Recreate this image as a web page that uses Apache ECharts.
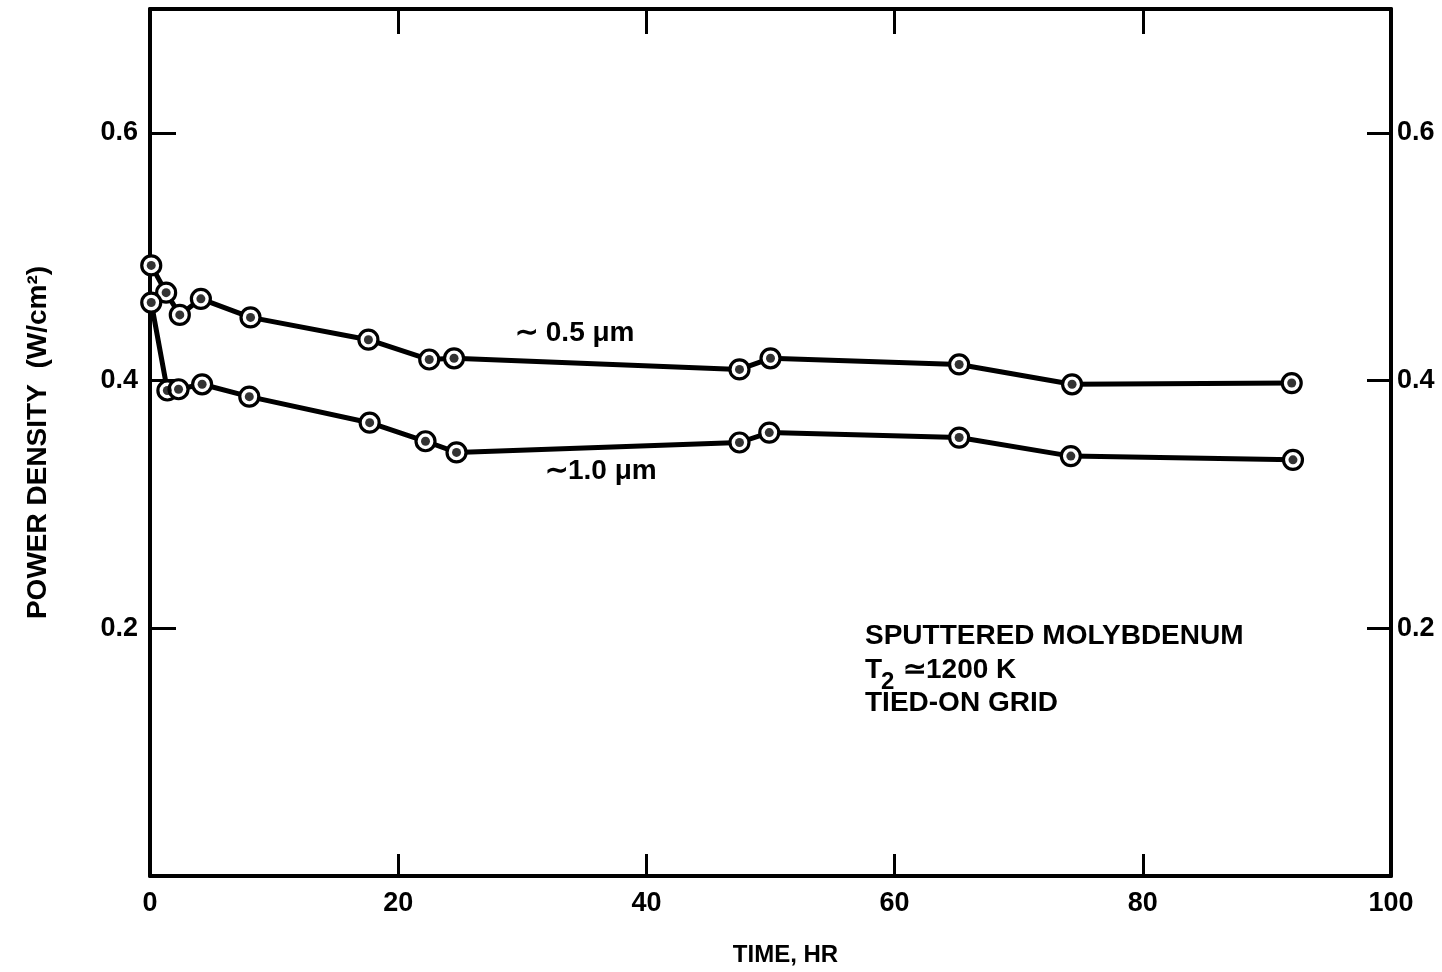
<!DOCTYPE html>
<html>
<head>
<meta charset="utf-8">
<script src="https://cdn.jsdelivr.net/npm/echarts@6/dist/echarts.min.js"></script>
<style>
html,body{margin:0;padding:0;background:#fff;}
#chart{width:1442px;height:972px;}
</style>
</head>
<body>
<div id="chart"></div>
<script>
// Data
var timeHalf = [0.1, 1.3, 2.4, 4.1, 8.1, 17.6, 22.5, 24.5, 47.5, 50.0, 65.2, 74.3, 92.0];
var densHalf = [0.493, 0.471, 0.453, 0.466, 0.451, 0.433, 0.417, 0.418, 0.409, 0.418, 0.413, 0.397, 0.398];
var timeOne = [0.1, 1.4, 2.3, 4.2, 8.0, 17.7, 22.2, 24.7, 47.5, 49.9, 65.2, 74.2, 92.1];
var densOne = [0.463, 0.392, 0.393, 0.397, 0.387, 0.366, 0.351, 0.342, 0.350, 0.358, 0.354, 0.339, 0.336];
var xTicks = [0, 20, 40, 60, 80, 100];
var yTicks = [0.2, 0.4, 0.6];
var seriesNames = ['\u223c 0.5 \u03bcm', '\u223c1.0 \u03bcm'];

var FONT = '"Liberation Sans", Arial, Helvetica, sans-serif';
function pairs(xs, ys){ return xs.map(function(x,i){ return [x, ys[i]]; }); }

var chart = echarts.init(document.getElementById('chart'), null, {renderer:'canvas'});
var lineBase = function(name, data){
  return {
    name: name, type: 'line', data: data, xAxisIndex: 0, yAxisIndex: 0,
    symbol: 'circle', symbolSize: 19, showSymbol: true,
    lineStyle: {color:'#000', width: 5},
    itemStyle: {color:'#fff', borderColor:'#000', borderWidth: 3.2},
    z: 3, silent: true
  };
};
var dotBase = function(name, data){
  return {
    name: name + ' dot', type: 'scatter', data: data, xAxisIndex: 0, yAxisIndex: 0,
    symbol: 'circle', symbolSize: 9, itemStyle: {color:'#000'}, z: 5, silent: true
  };
};
var d1 = pairs(timeHalf, densHalf), d2 = pairs(timeOne, densOne);

var axisLine = {show:true, onZero:false, lineStyle:{color:'#000', width:4}};
var tickStyle = {color:'#000', width:3};
var lblFmt = function(v){ return v.toFixed(1); };

chart.setOption({
  animation: false,
  backgroundColor: '#fff',
  grid: {left:150, right:51, top:9, bottom:95, containLabel:false},
  xAxis: [
    {type:'value', position:'bottom', min:0, max:100, interval:20,
     axisLine: axisLine,
     axisTick: {show:true, inside:true, length:22, lineStyle:tickStyle, customValues:xTicks},
     axisLabel: {show:true, color:'#000', fontSize:27, fontWeight:'bold', fontFamily:FONT, margin:14, customValues:xTicks},
     splitLine: {show:false},
     name: 'TIME, HR', nameLocation:'middle', nameGap:67,
     nameTextStyle: {color:'#000', fontSize:24, fontWeight:'bold', fontFamily:FONT, padding:[0,0,0,30]}
    },
    {type:'value', position:'top', min:0, max:100, interval:20,
     axisLine: axisLine,
     axisTick: {show:true, inside:true, length:25, lineStyle:tickStyle},
     axisLabel: {show:false}, splitLine:{show:false}
    }
  ],
  yAxis: [
    {type:'value', position:'left', min:0, max:0.7,
     axisLine: axisLine,
     axisTick: {show:true, inside:true, length:26, lineStyle:tickStyle, customValues:yTicks},
     axisLabel: {show:true, color:'#000', fontSize:27, fontWeight:'bold', fontFamily:FONT, margin:12,
                 customValues:yTicks, formatter:lblFmt},
     splitLine: {show:false},
     name: 'POWER DENSITY  (W/cm\u00b2)', nameLocation:'middle', nameGap:98,
     nameTextStyle: {color:'#000', fontSize:28, fontWeight:'bold', fontFamily:FONT}
    },
    {type:'value', position:'right', min:0, max:0.7,
     axisLine: axisLine,
     axisTick: {show:true, inside:true, length:24, lineStyle:tickStyle, customValues:yTicks},
     axisLabel: {show:true, color:'#000', fontSize:27, fontWeight:'bold', fontFamily:FONT, margin:6,
                 customValues:yTicks, formatter:lblFmt},
     splitLine: {show:false}
    }
  ],
  series: [ lineBase(seriesNames[0], d1), lineBase(seriesNames[1], d2), dotBase(seriesNames[0], d1), dotBase(seriesNames[1], d2) ],
  graphic: [
    {type:'text', left:515, top:319, style:{text:seriesNames[0], fill:'#000', font:'bold 28px ' + FONT}},
    {type:'text', left:545, top:457, style:{text:seriesNames[1], fill:'#000', font:'bold 28px ' + FONT}},
    {type:'text', left:865, top:622, style:{text:'SPUTTERED MOLYBDENUM', fill:'#000', font:'bold 28px ' + FONT}},
    {type:'text', left:865, top:656, style:{text:'T', fill:'#000', font:'bold 28px ' + FONT}},
    {type:'text', left:881, top:670, style:{text:'2', fill:'#000', font:'bold 24px ' + FONT}},
    {type:'text', left:903, top:656, style:{text:'\u22431200 K', fill:'#000', font:'bold 28px ' + FONT}},
    {type:'text', left:865, top:689, style:{text:'TIED-ON GRID', fill:'#000', font:'bold 28px ' + FONT}}
  ]
});
</script>
</body>
</html>
